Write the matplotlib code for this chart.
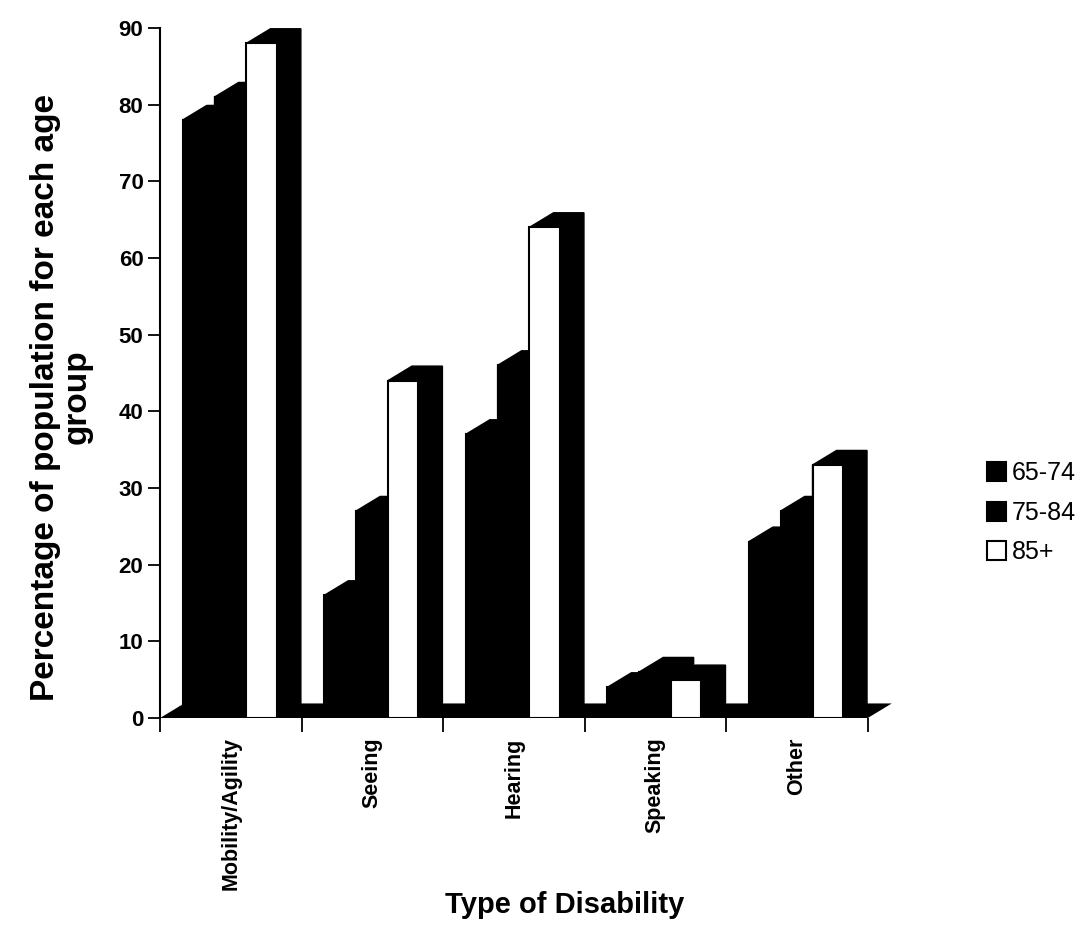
import matplotlib.pyplot as plt
from matplotlib.patches import Patch

# données
categories = ['Mobility/Agility', 'Seeing', 'Hearing', 'Speaking', 'Other']
groups = ['65-74', '75-84', '85+']
age_65_74 = [78, 16, 37, 4, 23]
age_75_84 = [81, 27, 46, 6, 27]
age_85 = [88, 44, 64, 5, 33]
yticks = [0, 10, 20, 30, 40, 50, 60, 70, 80, 90]

plt.rcParams['font.family'] = ['Liberation Sans', 'DejaVu Sans']

fig = plt.figure(figsize=(10.91, 9.46), dpi=100)
ax = fig.add_axes([0.1467, 0.241, 0.6746, 0.7456])

# profondeur du faux effet 3D
dx, dy = 0.17, 1.9
width = 0.215
offsets = [0.16, 0.385, 0.61]
faces = ['black', 'black', 'white']

# sol
n = len(categories)
ax.fill([0, n, n + dx, dx], [0, 0, dy, dy], color='black', lw=0, zorder=1)

series = [age_65_74, age_75_84, age_85]
for i in range(n):
    for j, vals in enumerate(series):
        x0 = i + offsets[j]
        x1 = x0 + width
        h = vals[i]
        ax.fill([x0, x1, x1 + dx, x1 + dx, x0 + dx, x0],
                [0, 0, dy, h + dy, h + dy, h],
                color='black', lw=1, zorder=2)
        ax.bar(x0, h, width=width, align='edge', color=faces[j],
               edgecolor='black', linewidth=1.5, zorder=3)

ax.set_xlim(0, n + 0.2)
ax.set_ylim(0, 92)

for s in ['top', 'right', 'bottom']:
    ax.spines[s].set_visible(False)
ax.spines['left'].set_bounds(0, 90)
ax.spines['left'].set_linewidth(1.5)

ax.set_yticks(yticks)
ax.set_yticklabels([str(v) for v in yticks], fontsize=16, fontweight='bold')
ax.tick_params(axis='y', length=9, width=1.3, pad=3)

ax.set_xticks(range(n + 1))
ax.set_xticklabels([])
ax.tick_params(axis='x', which='major', length=10, width=1.3)
ax.set_xticks([i + 0.5 for i in range(n)], minor=True)
ax.set_xticklabels(categories, minor=True, rotation=90, fontsize=15.5,
                   fontweight='bold', va='top')
ax.tick_params(axis='x', which='minor', length=0, pad=14)

ax.set_ylabel('Percentage of population for each age\ngroup', fontsize=24,
              fontweight='bold', linespacing=1.0)
ax.yaxis.set_label_coords(-0.092, 0.455)
fig.text(565 / 1091, 1 - 905 / 946, 'Type of Disability', fontsize=21,
         fontweight='bold', ha='center', va='center')

handles = [Patch(facecolor=faces[k], edgecolor='black', linewidth=1.5)
           for k in range(3)]
fig.legend(handles, groups, loc='upper left', bbox_to_anchor=(0.884, 0.536),
           frameon=False, fontsize=18, handlelength=0.75, handleheight=0.8,
           handletextpad=0.25, labelspacing=0.62)

fig.savefig('out.png', dpi=100)
